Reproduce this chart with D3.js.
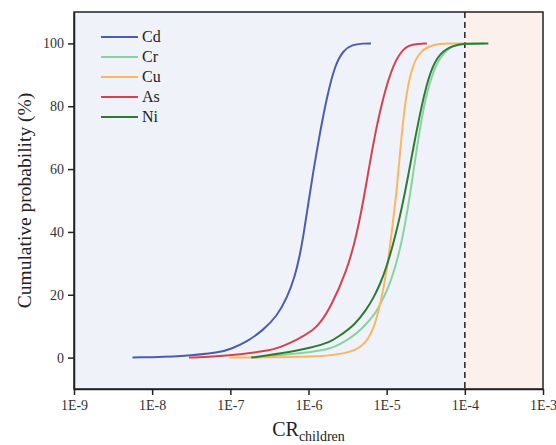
<!DOCTYPE html>
<html>
<head>
<meta charset="utf-8">
<script src="https://cdn.jsdelivr.net/npm/d3@7"></script>
<style>
  html, body { margin: 0; padding: 0; background: #ffffff; }
  svg { display: block; }
</style>
</head>
<body>
<svg id="chart" width="556" height="445"></svg>
<script>
// Cumulative probability (%) of carcinogenic risk for children, per metal.
const seriesNames = ["Cd", "Cr", "Cu", "As", "Ni"];
const seriesColors = ["#4a5db0", "#88d3a3", "#fdb55f", "#d8404f", "#2e7a33"];

const cdValues = [
  [5.6e-9, 0], [2.5e-8, 0.4], [7.4e-8, 1.6], [1.0e-7, 2.7], [1.63e-7, 5.0],
  [2.65e-7, 8.8], [3.94e-7, 13.2], [5.28e-7, 18.8], [6.75e-7, 26.0],
  [7.8e-7, 33.0], [8.5e-7, 38.0], [9.8e-7, 48.0], [1.12e-6, 57.5],
  [1.41e-6, 72.0], [1.72e-6, 83.0], [2.19e-6, 93.3], [2.8e-6, 97.8],
  [3.6e-6, 99.6], [5.0e-6, 100], [6.3e-6, 100]
];
const crValues = [
  [2.0e-7, 0], [4.34e-7, 0.8], [1.16e-6, 1.8], [1.89e-6, 2.8], [2.54e-6, 4.2],
  [4.16e-6, 7.5], [6.15e-6, 12.0], [7.48e-6, 14.8], [8.26e-6, 17.0],
  [1.054e-5, 22.0], [1.42e-5, 32.1], [1.73e-5, 42.7], [2.0e-5, 52.0],
  [2.44e-5, 67.0], [2.96e-5, 79.8], [3.79e-5, 90.4], [5.09e-5, 96.7],
  [7.16e-5, 99.4], [1.0e-4, 100], [1.78e-4, 100]
];
const cuValues = [
  [9.7e-8, 0], [4.34e-7, 0.1], [1.41e-6, 0.3], [3.09e-6, 1.3], [5.06e-6, 3.5],
  [6.79e-6, 8.8], [8.26e-6, 16.7], [1.007e-5, 27.5], [1.17e-5, 40.6],
  [1.35e-5, 53.5], [1.49e-5, 66.0], [1.73e-5, 82.5], [2.1e-5, 92.5],
  [2.69e-5, 97.8], [3.98e-5, 99.7], [5.89e-5, 100], [1.0e-4, 100]
];
const asValues = [
  [2.96e-8, 0], [7.4e-8, 0.3], [3.23e-7, 2.2], [4.34e-7, 3.3], [7.08e-7, 5.6],
  [1.16e-6, 8.8], [1.41e-6, 11.0], [1.89e-6, 15.7], [3.09e-6, 27.5],
  [4.15e-6, 39.0], [5.31e-6, 53.0], [6.79e-6, 69.0], [9.12e-6, 83.5],
  [1.22e-5, 93.5], [1.64e-5, 98.6], [2.2e-5, 99.8], [3.27e-5, 100]
];
const niValues = [
  [1.85e-7, 0], [4.34e-7, 1.2], [1.16e-6, 3.3], [1.89e-6, 5.0], [2.3e-6, 6.3],
  [3.98e-6, 10.5], [5.57e-6, 15.5], [6.79e-6, 19.0], [8.26e-6, 23.5],
  [9.57e-6, 27.5], [1.285e-5, 38.0], [1.74e-5, 53.0], [2.2e-5, 67.0],
  [2.82e-5, 80.7], [3.61e-5, 91.4], [4.84e-5, 97.2], [7.16e-5, 99.4],
  [1.0e-4, 100], [2.0e-4, 100]
];
const seriesValues = [cdValues, crValues, cuValues, asValues, niValues];

const xTicks = [1e-9, 1e-8, 1e-7, 1e-6, 1e-5, 1e-4, 1e-3];
const xTickLabels = ["1E-9", "1E-8", "1E-7", "1E-6", "1E-5", "1E-4", "1E-3"];
const yTicks = [0, 20, 40, 60, 80, 100];
const riskThreshold = 1e-4;

const svg = d3.select("#chart");
const margin = { left: 74, top: 12, right: 13, bottom: 56 };
const W = 556, H = 445;
const x = d3.scaleLog().domain([1e-9, 1e-3]).range([margin.left, W - margin.right]);
const y = d3.scaleLinear().domain([-10, 110]).range([H - margin.bottom, margin.top]);

const serif = "Liberation Serif";

// background zones: acceptable (blue) and above-threshold (pink)
svg.append("rect")
  .attr("x", x(1e-9)).attr("y", y(110))
  .attr("width", x(riskThreshold) - x(1e-9)).attr("height", y(-10) - y(110))
  .attr("fill", "#eff3f9");
svg.append("rect")
  .attr("x", x(riskThreshold)).attr("y", y(110))
  .attr("width", x(1e-3) - x(riskThreshold)).attr("height", y(-10) - y(110))
  .attr("fill", "#fcf0ec");

// threshold line
svg.append("line")
  .attr("x1", x(riskThreshold)).attr("x2", x(riskThreshold))
  .attr("y1", y(110)).attr("y2", y(-10))
  .attr("stroke", "#222").attr("stroke-width", 1.5)
  .attr("stroke-dasharray", "6,4");

// curves
const line = d3.line()
  .x(d => x(d[0]))
  .y(d => y(d[1]))
  .curve(d3.curveBasis);

seriesValues.forEach((vals, i) => {
  svg.append("path")
    .datum(vals)
    .attr("d", line)
    .attr("fill", "none")
    .attr("stroke", seriesColors[i])
    .attr("stroke-width", 2)
    .attr("stroke-linecap", "butt");
});

// frame
svg.append("rect")
  .attr("x", x(1e-9)).attr("y", y(110))
  .attr("width", x(1e-3) - x(1e-9)).attr("height", y(-10) - y(110))
  .attr("fill", "none").attr("stroke", "#222").attr("stroke-width", 1.5);

// axes
const xAxis = d3.axisBottom(x)
  .tickValues(xTicks)
  .tickFormat((d, i) => xTickLabels[i])
  .tickSize(6).tickSizeOuter(0).tickPadding(5);
const gx = svg.append("g")
  .attr("transform", `translate(0,${y(-10)})`)
  .call(xAxis);

const yAxis = d3.axisLeft(y)
  .tickValues(yTicks)
  .tickSize(6).tickSizeOuter(0).tickPadding(4);
const gy = svg.append("g")
  .attr("transform", `translate(${x(1e-9)},0)`)
  .call(yAxis);

[gx, gy].forEach(g => {
  g.select(".domain").attr("stroke", "#222").attr("stroke-width", 1.5);
  g.selectAll(".tick line").attr("stroke", "#222").attr("stroke-width", 1.5);
  g.selectAll(".tick text")
    .attr("font-family", serif).attr("font-size", 14).attr("fill", "#333");
});

// axis titles
svg.append("text")
  .attr("transform", `translate(31,${(y(110) + y(-10)) / 2}) rotate(-90)`)
  .attr("text-anchor", "middle")
  .attr("font-family", serif).attr("font-size", 19.5).attr("fill", "#222")
  .text("Cumulative probability (%)");

const xt = svg.append("text")
  .attr("x", (x(1e-9) + x(1e-3)) / 2).attr("y", 436)
  .attr("text-anchor", "middle")
  .attr("font-family", serif).attr("fill", "#222");
xt.append("tspan").attr("font-size", 20).text("CR");
xt.append("tspan").attr("font-size", 14).attr("dy", 5).text("children");

// legend
const legend = svg.append("g").attr("transform", "translate(101,37)");
seriesNames.forEach((name, i) => {
  const row = legend.append("g").attr("transform", `translate(0,${i * 20})`);
  row.append("line")
    .attr("x1", 0).attr("x2", 37).attr("y1", 0).attr("y2", 0)
    .attr("stroke", seriesColors[i]).attr("stroke-width", 2);
  row.append("text")
    .attr("x", 41).attr("y", 5)
    .attr("font-family", serif).attr("font-size", 16).attr("fill", "#222")
    .text(name);
});
</script>
</body>
</html>
